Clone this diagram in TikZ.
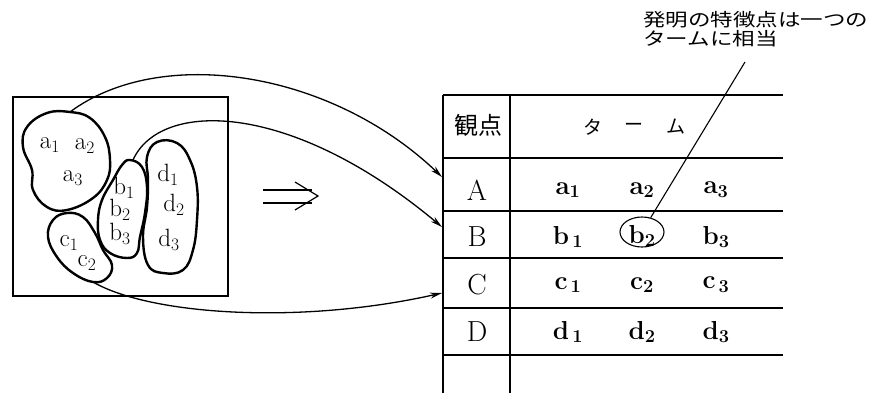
\documentclass[tikz,border=0pt]{standalone}
\usepackage{fontspec}
\newfontfamily\jp{Noto Sans CJK JP}
\usetikzlibrary{arrows.meta,shapes.geometric}
\newcommand{\sbs}[2]{#1\textsubscript{#2}}
\begin{document}
\begin{tikzpicture}[x=1pt,y=-1pt,
  blob/.style={line width=2.4pt, line join=round},
  framebox/.style={line width=1.2pt},
  link/.style={line width=1.3pt, -{Stealth[length=12pt,width=6pt]}},
  tbl/.style={line width=1.5pt},
  lt/.style={font=\fontsize{25}{27}\selectfont, inner sep=0},
  cell/.style={font=\fontsize{26}{28}\selectfont\bfseries, inner sep=0},
  rowlbl/.style={font=\fontsize{29}{31}\selectfont, inner sep=0},
  jtxt/.style={font=\jp\fontsize{18}{20}\selectfont, inner sep=0, anchor=west, xscale=1.25}
]
\useasboundingbox (0,0) rectangle (873,394);

% left frame
\draw[framebox] (13,97) rectangle (228,296);

% blobs
\draw[blob] plot[smooth cycle, tension=0.7] coordinates {(70,112) (90,118) (105,137) (110,160) (107,180) (93,198) (67,210) (47,207) (33,190) (32,170) (23,147) (27,127) (47,113)};
\draw[blob] plot[smooth cycle, tension=0.7] coordinates {(130,160) (142,167) (147,187) (145,213) (140,237) (137,253) (127,258) (110,253) (100,240) (98,220) (102,200) (113,180) (122,165)};
\draw[blob] plot[smooth cycle, tension=0.7] coordinates {(67,213) (83,217) (95,233) (103,250) (112,265) (107,278) (93,282) (73,273) (57,257) (48,237) (53,220)};
\draw[blob] plot[smooth cycle, tension=0.7] coordinates {(157,142) (177,143) (190,160) (197,187) (197,220) (193,250) (183,270) (163,273) (148,265) (143,237) (147,207) (148,180) (147,157)};

% blob texts
\node[lt] (a1) at (50,145) {\sbs{a}{1}};
\node[lt] (a2) at (85,146) {\sbs{a}{2}};
\node[lt] (a3) at (73,178) {\sbs{a}{3}};
\node[lt] (b1) at (124,188) {\sbs{b}{1}};
\node[lt] (b2) at (120,210) {\sbs{b}{2}};
\node[lt] (b3) at (120,234) {\sbs{b}{3}};
\node[lt] (c1) at (69,243) {\sbs{c}{1}};
\node[lt] (c2) at (87,263) {\sbs{c}{2}};
\node[lt] (d1) at (168,175) {\sbs{d}{1}};
\node[lt] (d2) at (174,205) {\sbs{d}{2}};
\node[lt] (d3) at (169,240) {\sbs{d}{3}};

% connector endpoints
\coordinate (sA) at (70,112);
\coordinate (sB) at (133,160);
\coordinate (sC) at (93,282);
\coordinate (tA) at (442,177);
\coordinate (tB) at (442,227);
\coordinate (tC) at (442,293);

\draw[link] (sA) .. controls (160,45) and (330,70) .. (tA);
\draw[link] (sB) .. controls (160,100) and (290,100) .. (tB);
\draw[link] (sC) .. controls (150,315) and (300,325) .. (tC);

% double arrow
\draw[line width=1.2pt] (263,190) -- (312,190);
\draw[line width=1.2pt] (263,203) -- (312,203);
\draw[line width=1.2pt, line join=miter] (295,182) -- (318,196) -- (295,210);

% table
\draw[tbl] (443,95) -- (783,95);
\draw[tbl] (443,158) -- (783,158);
\draw[tbl] (443,211) -- (783,211);
\draw[tbl] (443,258) -- (783,258);
\draw[tbl] (443,308) -- (783,308);
\draw[tbl] (443,355) -- (783,355);
\draw[line width=1.9pt] (443,95) -- (443,393);
\draw[line width=1.7pt] (510,95) -- (510,393);

\node[font=\jp\fontsize{24}{26}\selectfont, inner sep=0] (hv) at (478,125) {観点};
\node[font=\jp\fontsize{19}{21}\selectfont, inner sep=0] (t1) at (593,127) {タ};
\node[font=\jp\fontsize{19}{21}\selectfont, inner sep=0] (t2) at (634,127) {ー};
\node[font=\jp\fontsize{19}{21}\selectfont, inner sep=0] (t3) at (676,127) {ム};

\node[rowlbl] (rA) at (477,190) {A};
\node[rowlbl] (rB) at (477,237) {B};
\node[rowlbl] (rC) at (477,285) {C};
\node[rowlbl] (rD) at (477,332) {D};

\node[cell] (ta1) at (568,190) {\sbs{a}{1}};
\node[cell] (ta2) at (642,190) {\sbs{a}{2}};
\node[cell] (ta3) at (716,190) {\sbs{a}{3}};
\node[cell] (tb1) at (568,237) {\sbs{b}{\,1}};
\node[cell] (tb2) at (642,236) {\sbs{b}{2}};
\node[cell] (tb3) at (716,237) {\sbs{b}{3}};
\node[cell] (tc1) at (568,285) {\sbs{c}{\,1}};
\node[cell] (tc2) at (642,285) {\sbs{c}{2}};
\node[cell] (tc3) at (716,285) {\sbs{c}{\,3}};
\node[cell] (td1) at (568,332) {\sbs{d}{\,1}};
\node[cell] (td2) at (642,332) {\sbs{d}{2}};
\node[cell] (td3) at (716,332) {\sbs{d}{3}};

\node[draw, ellipse, line width=1.1pt, minimum width=44pt, minimum height=30pt, inner sep=0] (b2c) at (642,232) {};

% annotation
\node[jtxt] (n1) at (643,20) {発明の特徴点は一つの};
\node[jtxt] (n2) at (643,39) {タームに相当};
\coordinate (ldr) at (745,62);
\draw[line width=1.1pt] (ldr) -- (b2c);
\end{tikzpicture}
\end{document}
